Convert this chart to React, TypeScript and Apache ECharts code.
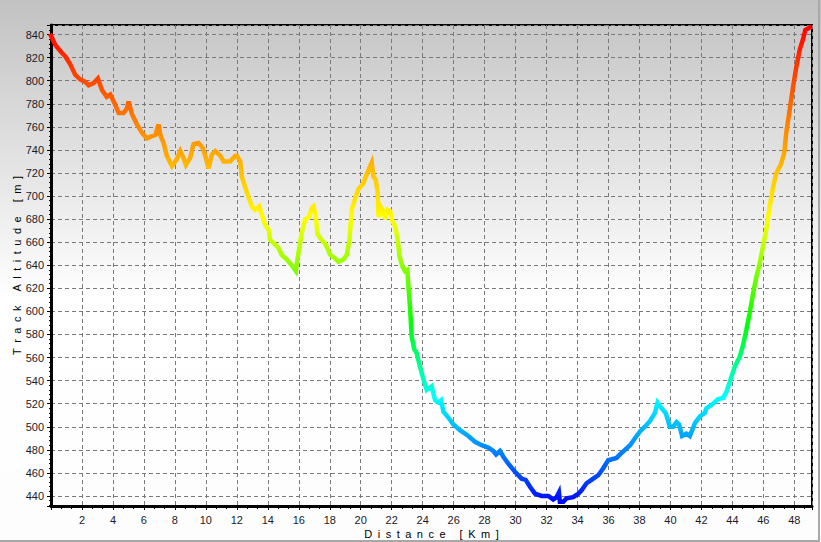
import React, { useEffect, useRef } from "react";
import * as echarts from "echarts";

const distanceKm: number[] = [
  0.0, 0.28, 0.71, 0.93, 1.25, 1.57, 1.9, 2.22, 2.43, 2.75, 3.03, 3.29, 3.6, 3.83, 4.05, 4.37, 4.69, 4.9,
  5.01, 5.23, 5.55, 5.87, 6.19, 6.52, 6.74, 6.95, 7.06, 7.27, 7.48, 7.81, 8.13, 8.35, 8.56, 8.71, 8.99,
  9.2, 9.53, 9.79, 9.96, 10.17, 10.39, 10.6, 10.93, 11.14, 11.57, 11.9, 12.0, 12.22, 12.32, 12.65, 12.97,
  13.19, 13.45, 13.61, 13.83, 14.05, 14.15, 14.48, 14.69, 14.9, 15.23, 15.55, 15.81, 15.98, 16.19, 16.41,
  16.67, 16.85, 16.95, 17.1, 17.21, 17.48, 17.74, 18.03, 18.35, 18.56, 18.88, 19.1, 19.27, 19.42, 19.64,
  19.85, 20.17, 20.39, 20.61, 20.71, 20.82, 20.97, 21.1, 21.15, 21.32, 21.46, 21.57, 21.74, 21.9, 22.05,
  22.22, 22.39, 22.5, 22.69, 22.86, 23.01, 23.08, 23.19, 23.29, 23.46, 23.61, 23.83, 24.05, 24.26, 24.48,
  24.58, 24.8, 25.01, 25.19, 25.34, 25.66, 25.98, 26.41, 26.95, 27.38, 27.81, 28.24, 28.56, 28.74, 28.99,
  29.21, 29.53, 29.96, 30.39, 30.65, 30.93, 31.25, 31.68, 32.11, 32.43, 32.65, 32.8, 32.86, 33.08, 33.29,
  33.72, 34.05, 34.26, 34.58, 34.9, 35.34, 35.66, 35.98, 36.52, 36.74, 37.06, 37.39, 37.71, 38.03, 38.35,
  38.68, 39.0, 39.17, 39.43, 39.69, 39.96, 40.17, 40.39, 40.56, 40.75, 41.03, 41.25, 41.46, 41.57, 41.9,
  42.22, 42.32, 42.65, 43.08, 43.4, 43.61, 43.83, 44.15, 44.48, 44.69, 44.9, 45.12, 45.34, 45.55, 45.77,
  45.94, 46.19, 46.41, 46.63, 46.84, 47.12, 47.34, 47.48, 47.7, 47.92, 48.13, 48.35, 48.56, 48.71, 48.99,
];

const altitudeM: number[] = [
  839, 831, 824, 821, 814, 805, 801, 799, 796, 798, 802, 792, 786, 788, 782, 772, 772, 776,
  782, 771, 762, 755, 750, 752, 753, 762, 753, 746, 735, 726, 732, 739, 733, 727, 733,
  745, 746, 742, 735, 724, 736, 739, 735, 730, 730, 735, 735, 730, 717, 703, 691,
  688, 691, 684, 675, 671, 662, 658, 655, 649, 645, 640, 635, 651, 668, 680,
  682, 690, 691, 682, 667, 662, 658, 649, 646, 643, 645, 649, 662, 688, 698,
  706, 711, 719, 726, 729, 717, 714, 703, 682, 690, 687, 680, 688, 687, 678,
  674, 662, 648, 639, 635, 636, 622, 602, 578, 567, 564, 552, 541, 532, 534,
  535, 523, 521, 523, 513, 508, 502, 497, 492, 487, 484, 482, 479, 476, 479,
  474, 468, 461, 455, 454, 448, 442, 440, 440, 437, 439, 443, 435, 435, 438,
  439, 442, 445, 451, 454, 458, 464, 471, 473, 476, 480, 484, 490, 496, 500,
  505, 512, 521, 516, 512, 500, 500, 504, 502, 492, 494, 492, 499, 503, 509,
  512, 516, 519, 524, 525, 530, 539, 552, 561, 571, 584, 599, 616, 630, 642,
  654, 671, 691, 708, 720, 727, 737, 755, 775, 795, 812, 827, 836, 844, 846,
];

const xTickStep = 2;
const yTickStep = 20;
const xRange = [0, 49.14];
const yRange = [431.3, 848.3];

const xAxisTitle = "Distance [Km]";
const yAxisTitle = "Track Altitude [m]";

// letter-spaced rendering of a title (en spaces between characters)
const spaced = (s: string) => s.split("").join("\u2002");

// colour style: hue anchors (altitude -> hue)
const hueAnchors: [number, number][] = [
  [431, 240],
  [525, 180],
  [590, 120],
  [680, 60],
  [848, 0],
];

function hueAt(v: number): number {
  for (let i = 0; i < hueAnchors.length - 1; i++) {
    const [a, ha] = hueAnchors[i];
    const [b, hb] = hueAnchors[i + 1];
    if (v <= b) {
      const t = Math.max(0, (v - a) / (b - a));
      return ha + (hb - ha) * t;
    }
  }
  return 0;
}

function buildColors(): string[] {
  const out: string[] = [];
  const n = 40;
  for (let i = 0; i <= n; i++) {
    const v = yRange[0] + ((yRange[1] - yRange[0]) * i) / n;
    out.push(`hsl(${hueAt(v).toFixed(1)}, 100%, 50%)`);
  }
  return out;
}

const FONT = "'Liberation Sans', Arial, sans-serif";

export default function App() {
  const ref = useRef<HTMLDivElement>(null);

  useEffect(() => {
    if (!ref.current) return;
    const chart = echarts.init(ref.current, undefined, { renderer: "svg" });
    const data = distanceKm.map((d, i) => [d, altitudeM[i]]);
    chart.setOption({
      animation: false,
      backgroundColor: "transparent",
      grid: {
        left: 51,
        top: 25,
        right: 9,
        bottom: 36,
        containLabel: false,
        outerBoundsMode: "none",
        show: true,
        borderColor: "#000",
        borderWidth: 2,
        backgroundColor: "transparent",
      },
      visualMap: {
        show: false,
        type: "continuous",
        dimension: 1,
        min: yRange[0],
        max: yRange[1],
        inRange: { color: buildColors() },
        seriesIndex: 0,
      },
      xAxis: {
        type: "value",
        min: xRange[0],
        max: xRange[1],
        minInterval: xTickStep,
        maxInterval: xTickStep,
        splitNumber: 25,
        name: spaced(xAxisTitle),
        nameLocation: "middle",
        nameGap: 22,
        nameMoveOverlap: false,
        nameTextStyle: { fontFamily: FONT, fontSize: 11, color: "#000" },
        axisLine: { show: true, onZero: false, lineStyle: { color: "#000", width: 3 } },
        axisTick: { show: true, length: 4, lineStyle: { color: "#000" } },
        minorTick: { show: true, splitNumber: 3, length: 3, lineStyle: { color: "#000" } },
        splitLine: { show: true, lineStyle: { color: "#7a7a7a", type: [4, 3], width: 1 } },
        axisLabel: {
          fontFamily: FONT,
          fontSize: 11,
          color: "#1a1a2a",
          margin: 8,
          showMinLabel: false,
          showMaxLabel: false,
          formatter: (v: number) => (Math.abs(v - Math.round(v)) < 1e-6 && v > 0 ? String(Math.round(v)) : ""),
        },
      },
      yAxis: {
        type: "value",
        min: yRange[0],
        max: yRange[1],
        minInterval: yTickStep,
        maxInterval: yTickStep,
        splitNumber: 21,
        name: spaced(yAxisTitle),
        nameLocation: "middle",
        nameGap: 29,
        nameMoveOverlap: false,
        nameRotate: 90,
        nameTextStyle: { fontFamily: FONT, fontSize: 11, color: "#000" },
        axisLine: { show: true, lineStyle: { color: "#000", width: 3 } },
        axisTick: { show: true, length: 4, lineStyle: { color: "#000" } },
        minorTick: { show: true, splitNumber: 5, length: 2, lineStyle: { color: "#000" } },
        splitLine: { show: true, lineStyle: { color: "#7a7a7a", type: [4, 3], width: 1 } },
        axisLabel: {
          fontFamily: FONT,
          fontSize: 11,
          color: "#1a1a2a",
          margin: 7,
          showMinLabel: false,
          showMaxLabel: false,
          formatter: (v: number) => (Math.abs(v % 20) < 1e-6 ? String(Math.round(v)) : ""),
        },
      },
      series: [
        {
          type: "line",
          data,
          showSymbol: false,
          symbol: "none",
          smooth: false,
          lineStyle: { width: 4.5, cap: "square", join: "miter" },
          clip: true,
        },
      ],
    });
    return () => chart.dispose();
  }, []);

  return (
    <div
      style={{
        position: "fixed",
        left: 0,
        top: 0,
        width: 821,
        height: 542,
        background: "linear-gradient(to bottom, #c2c2c2 0px, #ffffff 300px, #fdfdfd 542px)",
        overflow: "hidden",
      }}
    >
      <div style={{ position: "absolute", left: 818, top: 0, width: 2, height: 542, background: "#a8a8a8" }} />
      <div style={{ position: "absolute", left: 0, top: 540, width: 820, height: 2, background: "#a8a8a8" }} />
      <div ref={ref} style={{ position: "absolute", left: 0, top: 0, width: 821, height: 542 }} />
    </div>
  );
}
